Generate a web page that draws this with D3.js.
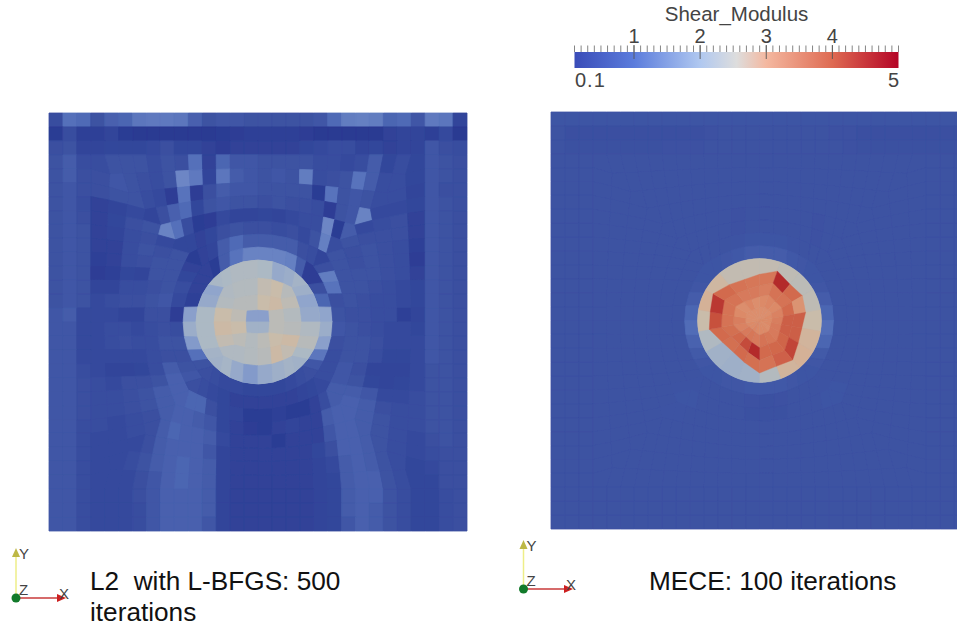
<!DOCTYPE html>
<html><head><meta charset="utf-8">
<script src="https://d3js.org/d3.v7.min.js"></script>
<style>html,body{margin:0;background:#fff;overflow:hidden}svg{display:block}text{font-family:"Liberation Sans",Arial,sans-serif}</style>
</head><body><svg id="c" width="957" height="626"></svg>
<script>
// Shear modulus: one value per mesh cell, rows top to bottom
const leftGrid = [
[.5,.9,.85,.6,.75,.8,1,1.05,1.05,1,.75,.6,.65,.65,.6,.6,.6,.6,.6,.65,.85,1.1,1.15,1.1,.8,.85,.65,1.05,1,.35],
[.15,.5,.25,.25,.35,.15,.1,.1,.1,.1,.1,.1,.15,.2,.25,.25,.25,.25,.2,.1,.1,.1,.1,.1,.3,.35,.35,.25,.45,.1],
[.55,.6,.35,.35,.4,.4,.4,.45,.55,.4,.4,.3,.2,.3,.3,.3,.3,.3,.4,.45,.5,.5,.35,.4,.3,.35,.35,.65,.55,.5],
[.6,.7,.5,.5,.6,.6,.6,.5,.6,.55,.9,.3,.8,.65,.65,.6,.6,.6,.6,.5,.5,.45,.5,.7,.4,.5,.4,.65,.6,.55],
[.6,.7,.55,.55,.65,.6,.55,.5,.6,1.25,1.05,.35,1,.7,.65,.6,.65,.6,1.1,.5,.55,.6,.95,.7,.5,.5,.4,.65,.6,.55],
[.6,.65,.55,.55,.6,.6,.5,.45,.2,.95,.2,.55,.7,.65,.65,.6,.6,.6,.6,.15,.95,.6,.65,.6,.5,.5,.35,.65,.55,.55],
[.6,.65,.5,.3,.35,.45,.35,.55,.75,.85,.4,.6,.65,.6,.6,.55,.6,.55,.55,.5,.2,.6,.65,1.2,.45,.45,.4,.65,.6,.55],
[.6,.65,.55,.3,.4,.55,.6,1.2,.9,.5,.15,.2,.45,.35,.35,.4,.35,.45,.5,.5,1.25,.15,.7,.45,.5,.55,.3,.65,.6,.55],
[.6,.65,.6,.3,.35,.5,.55,.45,.4,.4,.3,.4,.55,.6,.55,.55,.5,.55,.45,.6,1.15,.5,.6,.55,.55,.55,.3,.65,.6,.55],
[.6,.65,.6,.3,.3,.5,.6,.55,.6,.15,.3,.35,.7,.85,.7,.7,.7,.7,.55,.5,.35,.6,.55,.6,.55,.5,.25,.65,.6,.55],
[.6,.65,.6,.25,.3,.5,.55,.6,.6,.3,.3,.15,.7,.95,1.2,1.2,1.2,1.15,.7,.2,.55,.6,.55,.6,.55,.5,.2,.65,.6,.55],
[.6,.65,.6,.2,.25,.4,.35,.6,.6,.4,.3,2.25,2.3,2.35,2.35,2.3,1.9,2,2.15,.2,1.1,.6,.6,.6,.55,.5,.3,.65,.6,.55],
[.6,.65,.6,.35,.35,.5,.5,.55,.6,.5,.3,1.8,2.35,2.4,2.4,2.6,2.7,2.45,2.05,.55,.95,.6,.6,.55,.5,.45,.4,.65,.6,.55],
[.6,.65,.6,.45,.5,.55,.55,.6,.65,.45,.25,1.9,2.4,2.45,2.45,2.7,2.75,2.55,1.8,.8,.55,.6,.55,.5,.5,.45,.4,.65,.6,.55],
[.65,.7,.45,.45,.45,.35,.35,.55,.55,.2,1.7,2.3,2.7,2.55,1.7,1.7,2.5,2.4,1.9,1.8,.6,.55,.55,.5,.5,.25,.35,.65,.6,.55],
[.65,.65,.45,.45,.5,.5,.45,.5,.55,.5,2,2.3,2.75,2.7,2.1,2.1,2.5,2.45,2.35,2,.65,.6,.55,.5,.45,.45,.4,.65,.6,.55],
[.65,.65,.45,.45,.5,.55,.5,.5,.6,.6,1.6,2.3,2.6,2.5,2.4,2.5,2.7,2.75,2.45,1.7,.55,.6,.6,.55,.45,.45,.45,.65,.6,.55],
[.65,.65,.45,.45,.45,.45,.45,.5,.55,.55,.9,2.15,2.35,2.35,2.4,2.45,2.75,2.6,2.3,1,.5,.6,.6,.5,.4,.4,.45,.65,.6,.55],
[.65,.65,.5,.45,.35,.35,.4,.5,.7,.6,.6,2.1,2.2,1.9,1.6,1.9,2.05,2.15,2.1,.65,.5,.65,.55,.35,.35,.35,.45,.6,.6,.55],
[.65,.65,.55,.5,.45,.55,.55,.6,.75,.65,.55,.5,.45,.45,.4,.4,.4,.45,.5,.55,.5,.65,.6,.4,.35,.4,.45,.6,.6,.55],
[.65,.65,.55,.5,.5,.55,.6,.7,.75,.55,.5,.45,.4,.3,.3,.3,.3,.3,.35,.4,.45,.7,.7,.65,.45,.45,.5,.6,.6,.55],
[.65,.65,.55,.5,.5,.55,.6,.7,.75,.8,.8,.55,.4,.35,.15,.15,.25,.15,.15,.3,.5,.7,.75,.7,.55,.5,.5,.6,.6,.55],
[.65,.65,.5,.5,.45,.5,.55,.7,.75,.75,.7,.65,.4,.3,.2,.15,.3,.35,.3,.3,.7,.75,.75,.7,.6,.5,.5,.6,.6,.55],
[.65,.65,.5,.45,.45,.5,.55,.7,.8,.75,.75,.7,.45,.3,.3,.3,.15,.3,.3,.3,.65,.75,.75,.7,.6,.5,.45,.55,.6,.55],
[.65,.65,.5,.45,.45,.45,.55,.7,.75,.75,.75,.65,.35,.3,.3,.3,.3,.3,.3,.4,.55,.75,.75,.7,.6,.5,.45,.5,.55,.55],
[.65,.65,.5,.45,.45,.5,.6,.7,.75,.8,.75,.7,.35,.3,.3,.3,.3,.3,.3,.35,.45,.7,.75,.7,.6,.5,.4,.45,.55,.55],
[.65,.65,.5,.45,.45,.45,.55,.65,.75,.8,.75,.7,.35,.3,.3,.3,.3,.3,.3,.35,.4,.7,.75,.75,.6,.5,.4,.4,.55,.55],
[.65,.65,.5,.45,.45,.45,.55,.65,.75,.75,.75,.7,.35,.3,.3,.3,.3,.3,.3,.35,.4,.7,.75,.75,.6,.5,.4,.4,.5,.55],
[.65,.65,.5,.45,.45,.45,.5,.65,.75,.75,.75,.7,.35,.3,.3,.3,.3,.3,.3,.35,.4,.7,.75,.7,.6,.5,.4,.4,.5,.55],
[.65,.65,.5,.45,.45,.45,.5,.65,.75,.75,.75,.65,.35,.3,.3,.3,.3,.3,.3,.35,.4,.65,.75,.7,.6,.5,.4,.4,.5,.55]
];
const rightGrid = [
[.62,.62,.62,.62,.62,.62,.62,.62,.62,.62,.62,.62,.62,.62,.62,.62,.62,.62,.62,.62,.62,.62,.62,.62,.62,.62,.62,.62,.62,.62],
[.6,.56,.56,.56,.56,.56,.56,.56,.56,.56,.56,.59,.6,.6,.6,.6,.6,.6,.6,.6,.59,.59,.56,.56,.56,.56,.56,.56,.56,.56],
[.6,.58,.58,.58,.58,.58,.58,.58,.59,.59,.59,.6,.6,.6,.6,.6,.6,.6,.6,.6,.6,.59,.58,.58,.58,.58,.58,.58,.58,.59],
[.6,.6,.6,.6,.6,.6,.6,.6,.6,.6,.6,.6,.6,.6,.6,.6,.6,.6,.6,.6,.6,.6,.6,.6,.6,.6,.6,.6,.6,.6],
[.6,.6,.6,.6,.6,.6,.6,.6,.6,.6,.6,.6,.6,.6,.6,.6,.6,.6,.6,.6,.6,.6,.6,.6,.6,.6,.6,.6,.6,.6],
[.6,.6,.6,.6,.6,.6,.6,.6,.6,.6,.6,.6,.6,.6,.6,.6,.6,.6,.6,.6,.6,.6,.6,.6,.6,.6,.6,.6,.6,.6],
[.6,.6,.6,.6,.6,.6,.6,.6,.6,.6,.6,.6,.6,.6,.6,.6,.6,.6,.6,.6,.6,.6,.6,.6,.6,.6,.6,.6,.6,.6],
[.6,.6,.6,.6,.6,.6,.6,.6,.6,.6,.6,.6,.6,.59,.6,.6,.6,.6,.6,.59,.6,.6,.6,.6,.6,.6,.6,.6,.6,.6],
[.6,.6,.6,.6,.6,.6,.6,.6,.6,.6,.6,.6,.6,.59,.6,.6,.6,.6,.6,.59,.6,.6,.6,.6,.6,.6,.6,.6,.6,.6],
[.6,.6,.6,.6,.6,.6,.6,.6,.6,.6,.6,.6,.6,.61,.62,.62,.62,.61,.6,.6,.6,.6,.6,.6,.6,.6,.6,.6,.6,.6],
[.6,.6,.6,.6,.6,.6,.6,.6,.6,.6,.62,.62,.64,.66,.7,.7,.7,.66,.64,.62,.6,.6,.6,.6,.6,.6,.6,.6,.6,.6],
[.6,.6,.6,.6,.6,.6,.6,.6,.6,.6,.62,0,0,0,0,0,0,0,0,.62,.6,.6,.6,.6,.6,.6,.6,.6,.6,.6],
[.6,.6,.6,.6,.6,.6,.6,.6,.6,.6,.64,0,0,0,0,0,0,0,0,.64,.6,.6,.6,.6,.6,.6,.6,.6,.6,.6],
[.6,.6,.6,.6,.6,.6,.6,.6,.6,.6,.7,0,0,0,0,0,0,0,0,.7,.6,.6,.6,.6,.6,.6,.6,.6,.6,.6],
[.6,.6,.6,.6,.6,.6,.6,.6,.6,.6,.8,0,0,0,0,0,0,0,0,.8,.6,.6,.6,.6,.6,.6,.6,.6,.6,.6],
[.6,.6,.6,.6,.6,.6,.6,.6,.6,.6,.86,0,0,0,0,0,0,0,0,.88,.6,.6,.6,.6,.6,.6,.6,.6,.6,.6],
[.6,.6,.6,.6,.6,.6,.6,.6,.6,.6,.76,0,0,0,0,0,0,0,0,.8,.6,.6,.6,.6,.6,.6,.6,.6,.6,.6],
[.6,.6,.6,.6,.6,.6,.6,.6,.6,.6,.68,0,0,0,0,0,0,0,0,.68,.6,.6,.6,.6,.6,.6,.6,.6,.6,.6],
[.6,.6,.6,.6,.6,.6,.6,.6,.6,.6,.64,0,0,0,0,0,0,0,0,.64,.6,.6,.6,.6,.6,.6,.6,.6,.6,.6],
[.6,.6,.6,.6,.6,.6,.6,.6,.6,.6,.62,.62,.64,.64,.66,.66,.66,.64,.62,.62,.6,.6,.6,.6,.6,.6,.6,.6,.6,.6],
[.6,.6,.6,.6,.6,.6,.6,.6,.61,.61,.6,.6,.6,.6,.59,.58,.59,.6,.6,.6,.61,.62,.6,.6,.6,.6,.6,.6,.6,.6],
[.6,.6,.6,.6,.6,.6,.6,.6,.62,.62,.6,.6,.6,.6,.58,.58,.58,.6,.6,.6,.62,.62,.6,.6,.6,.6,.6,.6,.6,.6],
[.6,.6,.6,.6,.6,.6,.6,.61,.61,.6,.6,.6,.6,.6,.6,.6,.6,.6,.6,.6,.6,.6,.6,.6,.6,.6,.6,.6,.6,.6],
[.6,.6,.6,.6,.6,.6,.6,.6,.6,.6,.6,.6,.6,.6,.6,.6,.6,.6,.6,.6,.6,.6,.6,.6,.6,.6,.6,.6,.6,.6],
[.6,.6,.6,.6,.6,.6,.6,.6,.6,.6,.6,.6,.6,.6,.6,.6,.6,.6,.6,.6,.6,.6,.6,.6,.6,.6,.6,.6,.6,.6],
[.6,.6,.6,.6,.6,.6,.6,.6,.6,.6,.6,.6,.6,.6,.6,.6,.6,.6,.6,.6,.6,.6,.6,.6,.6,.6,.6,.6,.6,.6],
[.6,.6,.6,.6,.6,.6,.6,.6,.6,.6,.6,.6,.6,.6,.6,.6,.6,.6,.6,.6,.6,.6,.6,.6,.6,.6,.6,.6,.6,.6],
[.6,.6,.6,.6,.6,.6,.6,.6,.6,.6,.6,.6,.6,.6,.6,.6,.6,.6,.6,.6,.6,.6,.6,.6,.6,.6,.6,.6,.6,.6],
[.6,.6,.6,.6,.6,.6,.6,.6,.6,.6,.6,.6,.6,.6,.6,.6,.6,.6,.6,.6,.6,.6,.6,.6,.6,.6,.6,.6,.6,.6],
[.6,.6,.6,.6,.6,.6,.6,.6,.6,.6,.6,.6,.6,.6,.6,.6,.6,.6,.6,.6,.6,.6,.6,.6,.6,.6,.6,.6,.6,.6]
];
// Inclusion, right panel: rim around the reconstructed patch, then patch cells by 18 sectors clockwise from the top
const rightRim = [2.6,2.55,2.5,2.55,2.7,2.85,2.9,2.85,2.4,2.1,2.05,2.1,2.35,2.7,2.9,2.8,2.6,2.6];
const rightExtent = [46.2,52.5,47.4,49.5,46.8,43,44.7,51.5,48.8,52.5,44.5,41,43,51,50,53.5,46.8,43.7];
const rightCoreCells = [3.35,3.35,3.35,3.4,3.4,3.4,3.35,3.4,3.4,3.4,3.45,3.4,3.4,3.35,3.35,3.35,3.35,3.35];
const rightInnerCells = [3.4,3.45,3.4,3.5,3.55,3.6,3.6,3.65,3.7,3.6,3.65,3.6,3.5,3.55,3.4,3.35,3.45,3.35];
const rightMidCells = [3.55,3.7,3.7,3.8,4,4,3.9,3.85,3.8,4.8,4.3,3.85,3.75,3.7,3.7,3.7,3.6,3.6];
const rightOuterCells = [3.65,4.8,3.8,3.3,4,4,4.4,3.95,3.7,3.75,3.8,3.75,3.8,4.2,4.6,3.8,3.7,3.65];
// Colour bar
const barDomain = [0.1,5];
const barTicks = [1,2,3,4];
const barMinorTicks = [.1,.2,.3,.4,.5,.6,.7,.8,.9,1,1.1,1.2,1.3,1.4,1.5,1.6,1.7,1.8,1.9,2,2.1,2.2,2.3,2.4,2.5,2.6,2.7,2.8,2.9,3,3.1,3.2,3.3,3.4,3.5,3.6,3.7,3.8,3.9,4,4.1,4.2,4.3,4.4,4.5,4.6,4.7,4.8,4.9,5];
const barStops = [.1,1,2,2.55,3,4,5];
const barColours = ["#3a4cb8","#5b7cdc","#b0c8f0","#dddddd","#f4b8a0","#de6a52","#b40426"];
const panelStops = [.1,.4,.6,.9,1.3,1.8,2.3,2.7,3,3.4,3.8,4.3,4.8];
const panelColours = ["#2b3a92","#33479b","#3c52a2","#5470ba","#7089c6","#90a5cc","#acb9c4","#c9bcaa","#d9ac8e","#dc8a68","#d26b4e","#c44b3a","#b32a2c"];
const captionLeft = ["L2  with L-BFGS: 500","iterations"];
const captionRight = "MECE: 100 iterations";

const svg = d3.select("#c");
const defs = svg.append("defs");
defs.append("filter").attr("id","soft").attr("x","-2%").attr("y","-2%").attr("width","104%").attr("height","104%")
  .append("feGaussianBlur").attr("stdDeviation",.6);
const panelColour = d3.scaleLinear().domain(panelStops).range(panelColours).clamp(true);
const clamp01 = d3.scaleLinear().domain([0,1]).range([0,1]).clamp(true);
const DISC = 62;

function panel(left,top,size,grid,base){
  const n = grid.length;
  const gx = d3.scaleLinear().domain([0,n]).range([left,left+size]);
  const gy = d3.scaleLinear().domain([0,n]).range([top,top+size]);
  const cx = gx(n/2), cy = gy(n/2), cell = size/n;
  // mesh node: lattice squares relax into circles around the inclusion
  function node(i,j){
    const u=i-n/2, v=j-n/2, s=Math.max(Math.abs(u),Math.abs(v));
    if(s===0) return [cx,cy];
    const rho=Math.hypot(u,v);
    const R = s<=4 ? DISC*Math.pow(s/4,1.2) : s*cell+(DISC-4*cell)*clamp01((10-s)/6);
    const t = s<=4 ? s/4 : clamp01((12-s)/8);
    const mx = t*u/rho+(1-t)*u/s, my = t*v/rho+(1-t)*v/s;
    return [cx+R*mx, cy+R*my];
  }
  const line = d3.line();
  const quad = d=>line([node(d.c,d.r),node(d.c+1,d.r),node(d.c+1,d.r+1),node(d.c,d.r+1)])+"Z";
  const cells = grid.flatMap((row,r)=>row.map((v,c)=>({r,c,v})));
  const inside = d=>d.r>=n/2-4&&d.r<n/2+4&&d.c>=n/2-4&&d.c<n/2+4;
  const g = svg.append("g").attr("filter","url(#soft)");
  g.append("rect").attr("x",left).attr("y",top).attr("width",size).attr("height",size).attr("fill",panelColour(base));
  const draw = (data)=>g.append("g").selectAll("path").data(data).join("path")
    .attr("d",quad).attr("fill",d=>panelColour(d.v)).attr("stroke",d=>panelColour(d.v)).attr("stroke-width",.8);
  draw(cells.filter(d=>!inside(d)));
  g.append("circle").attr("cx",cx).attr("cy",cy).attr("r",DISC).attr("fill",panelColour(2.3));
  return {g,cx,cy,inner:cells.filter(inside),draw};
}
const L = panel(49,113,418,leftGrid,.55);
L.draw(L.inner);

const R = panel(551,112,417,rightGrid,.6);
const rimAngle = d3.scaleLinear().domain([0,rightRim.length]).range([0,2*Math.PI]);
const rimArc = d3.arc();
R.g.append("g").attr("transform",`translate(${R.cx},${R.cy})`).selectAll("path").data(rightRim).join("path")
  .attr("d",(d,i)=>rimArc({innerRadius:0,outerRadius:DISC,startAngle:rimAngle(i),endAngle:rimAngle(i+1)}))
  .attr("fill",d=>panelColour(d)).attr("stroke",d=>panelColour(d)).attr("stroke-width",.4);
const patchRadius = d3.scaleLinear().domain([0,62]).range([0,DISC]);
function patchPoint(k,frac){
  const a = rimAngle(k), rad = patchRadius(rightExtent[k%rightExtent.length])*frac;
  return [R.cx+Math.sin(a)*rad,R.cy-Math.cos(a)*rad];
}
const patchLine = d3.line();
[[rightCoreCells,0,.28],[rightInnerCells,.28,.52],[rightMidCells,.52,.76],[rightOuterCells,.76,1]].forEach(([vals,f0,f1])=>{
  R.g.append("g").selectAll("path").data(vals).join("path")
   .attr("d",(d,i)=>patchLine([patchPoint(i,f0),patchPoint(i,f1),patchPoint(i+1,f1),patchPoint(i+1,f0)])+"Z")
   .attr("fill",d=>panelColour(d)).attr("stroke",d=>panelColour(d)).attr("stroke-width",.4);
});

// Colour bar
const bx = d3.scaleLinear().domain(barDomain).range([574.5,898.5]);
const grad = defs.append("linearGradient").attr("id","bar");
barStops.forEach((s,i)=>grad.append("stop").attr("offset",(s-.1)/4.9).attr("stop-color",barColours[i]));
svg.append("rect").attr("x",bx(.1)).attr("y",52).attr("width",bx(5)-bx(.1)).attr("height",16).attr("fill","url(#bar)");
svg.append("g").selectAll("line").data(barMinorTicks).join("line")
  .attr("x1",d=>bx(d)).attr("x2",d=>bx(d)).attr("y1",45.5).attr("y2",52).attr("stroke","#777").attr("stroke-width",.9);
svg.append("g").selectAll("line").data(barTicks).join("line")
  .attr("x1",d=>bx(d)).attr("x2",d=>bx(d)).attr("y1",45).attr("y2",59).attr("stroke","#555").attr("stroke-width",.9);
svg.append("g").selectAll("text").data(barTicks).join("text")
  .attr("x",d=>bx(d)).attr("y",43).attr("text-anchor","middle").attr("font-size",20).attr("fill","#444").text(d=>d);
svg.append("text").attr("x",736.5).attr("y",21).attr("text-anchor","middle").attr("font-size",20.5).attr("fill","#444").text("Shear_Modulus");
svg.append("text").attr("x",575).attr("y",87).attr("font-size",20).attr("letter-spacing",1).attr("fill","#444").text("0.1");
svg.append("text").attr("x",899).attr("y",87).attr("text-anchor","end").attr("font-size",20).attr("fill","#444").text(5);

// Orientation triads
function triad(ox,oy,top,right){
  const g = svg.append("g");
  g.append("line").attr("x1",ox).attr("x2",ox).attr("y1",oy).attr("y2",top+8).attr("stroke","#eeee88").attr("stroke-width",1.5);
  g.append("path").attr("d",d3.line()([[ox,top],[ox-4,top+9],[ox+4,top+9]])+"Z").attr("fill","#bdb845");
  g.append("line").attr("x1",ox).attr("x2",right-8).attr("y1",oy).attr("y2",oy).attr("stroke","#c83a3a").attr("stroke-width",1.3);
  g.append("path").attr("d",d3.line()([[right,oy],[right-9,oy-4],[right-9,oy+4]])+"Z").attr("fill","#cc1f1f");
  g.append("circle").attr("cx",ox).attr("cy",oy).attr("r",4.5).attr("fill","#127a2a");
  const lab = (t,x,y)=>g.append("text").attr("x",x).attr("y",y).attr("font-size",15).attr("fill","#444").text(t);
  lab("Y",ox+3,top+11); lab("Z",ox+3,oy-3); lab("X",right-7,oy+1);
}
triad(16,598,548,66);
triad(523.5,589,540,573);

// Captions
const cap = svg.append("g").attr("font-size",26.2).attr("fill","#111");
cap.append("text").attr("xml:space","preserve").attr("x",90).attr("y",590).text(captionLeft[0]);
cap.append("text").attr("x",90).attr("y",620.5).text(captionLeft[1]);
cap.append("text").attr("x",649).attr("y",590).text(captionRight);
</script></body></html>
